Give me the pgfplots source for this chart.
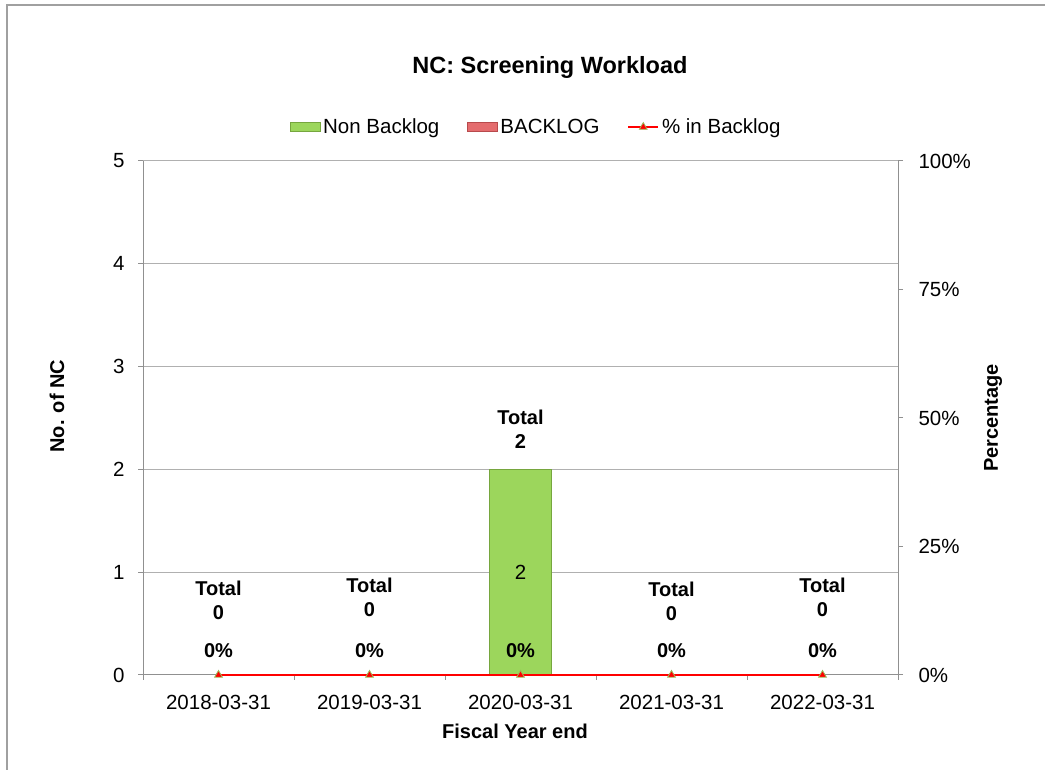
\documentclass[border=0pt]{standalone}
\usepackage{fontspec}
\setmainfont{Liberation Sans}
\usepackage{pgfplots}
\pgfplotsset{compat=1.18}
\definecolor{bordergray}{HTML}{A0A0A0}
\definecolor{gridgray}{HTML}{B0B0B0}
\definecolor{axisgray}{HTML}{909090}
\definecolor{barfill}{HTML}{9CD65C}
\definecolor{baredge}{HTML}{76A63E}
\definecolor{barlight}{HTML}{A8DE6A}
\definecolor{bkfill}{HTML}{E46C6E}
\definecolor{bkedge}{HTML}{B84A4C}
\definecolor{markedge}{HTML}{9BBB59}
\newcommand\fs{\fontsize{20.5bp}{24bp}\selectfont}
\newcommand\fl{\fontsize{20bp}{24bp}\selectfont\bfseries}
\newcommand\ft{\fontsize{23.5bp}{28bp}\selectfont\bfseries}
\pgfplotsset{
  greenleg/.style={legend image code/.code={\draw[draw=baredge, line width=1bp, fill=barfill] (0bp,-4.5bp) rectangle (30bp,4.5bp);}},
  redleg/.style={legend image code/.code={\draw[draw=bkedge, line width=1bp, fill=bkfill] (0bp,-4.5bp) rectangle (30bp,4.5bp);}},
  lineleg/.style={legend image code/.code={\draw[##1, mark repeat=2, mark phase=2] plot coordinates {(0bp,0bp) (15bp,0bp) (30bp,0bp)};}},
}
\begin{document}
\begin{tikzpicture}[x=1bp,y=1bp]
\path[use as bounding box] (0,0) rectangle (1045,770);
\draw[bordergray, line width=1.5bp] (7,0) -- (7,765) -- (1045,765);

\begin{axis}[
  at={(143bp,95bp)}, anchor=south west,
  scale only axis, width=755bp, height=514bp,
  xmin=-0.5, xmax=4.5, ymin=0, ymax=5,
  axis x line*=bottom, axis y line*=left,
  axis line style={axisgray, line width=1bp},
  tick style={axisgray, line width=1bp},
  major tick length=5bp, tick align=outside,
  xtick={-0.5,0.5,1.5,2.5,3.5,4.5}, xticklabels={},
  extra x ticks={0,1,2,3,4},
  extra x tick labels={2018-03-31,2019-03-31,2020-03-31,2021-03-31,2022-03-31},
  extra x tick style={major tick length=0pt, grid=none},
  ytick={0,1,2,3,4,5},
  ymajorgrids, grid style={gridgray, line width=1bp},
  ticklabel style={font=\fs},
  /pgf/number format/assume math mode=true,
  xticklabel style={yshift=-17bp},
  yticklabel style={xshift=-10bp},
  title={NC: Screening Workload},
  title style={font=\ft, at={(axis description cs:0.539,1.1695)}, anchor=center},
  xlabel={Fiscal Year end},
  xlabel style={font=\fl, at={(axis description cs:0.4927,-0.109)}, anchor=center},
  ylabel={No. of NC},
  ylabel style={font=\fl, at={(axis description cs:-0.114,0.523)}, anchor=center, rotate=0},
  legend style={at={(axis description cs:0.521,1.066)}, anchor=center,
    draw=none, fill=none, font=\fs, legend columns=3,
    /tikz/every even column/.append style={column sep=25bp},
    nodes={inner sep=2.5bp}},
  legend cell align=left,
]
\addplot[ybar, bar width=62bp, bar shift=0pt,
  draw=baredge, line width=1.5bp, fill=barfill,
  y filter/.expression={y==0 ? nan : y}, unbounded coords=discard, greenleg]
  coordinates {(0,0) (1,0) (2,2) (3,0) (4,0)};
\addlegendentry{Non Backlog}
\addplot[ybar, bar width=62bp, bar shift=0pt,
  draw=none, fill=none, redleg]
  coordinates {(0,0) (1,0) (2,0) (3,0) (4,0)};
\addlegendentry{BACKLOG}
\addlegendimage{red, line width=2.5bp, mark=triangle*, mark size=4.5bp,
  mark options={fill=red, draw=markedge, line width=0.8bp}, lineleg}
\addlegendentry{\% in Backlog}
% data labels
\node[font=\fl, align=center] at (axis cs:0,0.73) {Total\\0};
\node[font=\fl, align=center] at (axis cs:1,0.754) {Total\\0};
\node[font=\fl, align=center] at (axis cs:2,2.388) {Total\\2};
\node[font=\fl, align=center] at (axis cs:3,0.72) {Total\\0};
\node[font=\fl, align=center] at (axis cs:4,0.754) {Total\\0};
\node[font=\fs] at (axis cs:2,1) {2};
\end{axis}

\begin{axis}[
  at={(143bp,95bp)}, anchor=south west,
  scale only axis, width=755bp, height=514bp,
  xmin=-0.5, xmax=4.5, ymin=0, ymax=100,
  axis x line=none, axis y line*=right,
  axis line style={axisgray, line width=1bp},
  tick style={axisgray, line width=1bp},
  major tick length=5bp, tick align=outside,
  ytick={0,25,50,75,100},
  yticklabel={\pgfmathprintnumber{\tick}\%},
  ticklabel style={font=\fs},
  /pgf/number format/assume math mode=true,
  yticklabel style={xshift=12bp},
  ylabel={Percentage},
  ylabel style={font=\fl, at={(axis description cs:1.126,0.5)}, anchor=center, rotate=0},
  clip=false,
]
\addplot[red, line width=2.5bp, mark=triangle*, mark size=4.5bp,
  mark options={fill=red, draw=markedge, line width=0.8bp},
  point meta=y,
  nodes near coords={\pgfmathprintnumber{\pgfplotspointmeta}\%},
  nodes near coords style={font=\fl, text=black, anchor=center, yshift=24bp}]
  coordinates {(0,0) (1,0) (2,0) (3,0) (4,0)};
\end{axis}
\end{tikzpicture}
\end{document}
